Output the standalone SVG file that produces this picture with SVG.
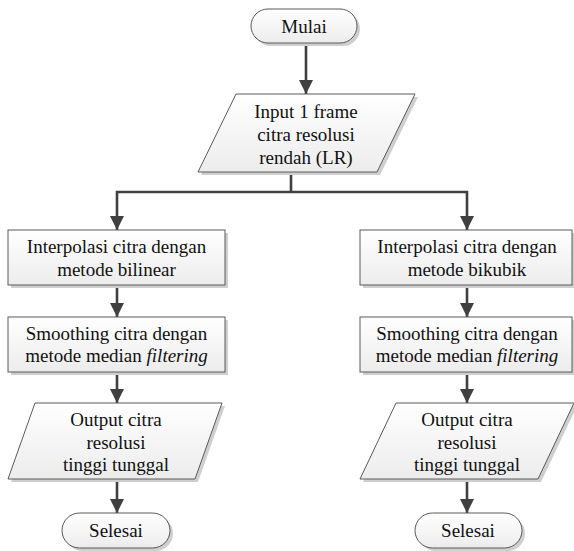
<svg xmlns="http://www.w3.org/2000/svg" width="574" height="551" viewBox="0 0 574 551">
<defs>
<linearGradient id="g" x1="0" y1="0" x2="0" y2="1">
<stop offset="0" stop-color="#ffffff"/>
<stop offset="1" stop-color="#ececec"/>
</linearGradient>
<marker id="ah" markerWidth="5.4" markerHeight="5.4" refX="5.4" refY="2.7" orient="auto" markerUnits="strokeWidth">
<path d="M0,0 L5.4,2.7 L0,5.4 Z" fill="#404040"/>
</marker>
</defs>
<style>
.s{fill:url(#g);stroke:#5a5a5a;stroke-width:1}
.sh{fill:#cfcfcf;stroke:none}
.t{font-family:"Liberation Serif","Times New Roman",serif;font-size:19px;fill:#111111;text-anchor:middle}
.c{fill:none;stroke:#404040;stroke-width:2.6;marker-end:url(#ah)}
.l{fill:none;stroke:#404040;stroke-width:2.6}
</style>
<rect width="574" height="551" fill="#ffffff"/>
<g id="connectors">
<line class="c" x1="306" y1="43" x2="306" y2="94"/>
<polyline class="l" points="291,172 291,192"/>
<polyline class="c" points="291,192 117,192 117,230"/>
<polyline class="c" points="291,192 467,192 467,230"/>
<line class="c" x1="117" y1="285" x2="117" y2="317"/>
<line class="c" x1="467" y1="285" x2="467" y2="317"/>
<line class="c" x1="117" y1="372" x2="117" y2="403"/>
<line class="c" x1="467" y1="372" x2="467" y2="403"/>
<line class="c" x1="117" y1="479" x2="117" y2="513"/>
<line class="c" x1="467" y1="479" x2="467" y2="513"/>
</g>
<g id="mulai">
<rect class="sh" x="254" y="12" width="106" height="34" rx="17"/>
<rect class="s" x="251" y="9" width="106" height="34" rx="17"/>
<text class="t" x="304" y="33" font-family="Liberation Serif, serif">Mulai</text>
</g>
<g id="input">
<polygon class="sh" points="239,97 418,97 380,175 201,175"/>
<polygon class="s" points="236,94 415,94 377,172 198,172"/>
<text class="t" x="306" y="118" font-family="Liberation Serif, serif">Input 1 frame</text>
<text class="t" x="306" y="141" font-family="Liberation Serif, serif">citra resolusi</text>
<text class="t" x="306" y="164" font-family="Liberation Serif, serif">rendah (LR)</text>
</g>
<g id="interp-bilinear">
<rect class="sh" x="11" y="233" width="217" height="55"/>
<rect class="s" x="8" y="230" width="217" height="55"/>
<text class="t" x="116.5" y="253" font-family="Liberation Serif, serif">Interpolasi citra dengan</text>
<text class="t" x="116.5" y="276" font-family="Liberation Serif, serif">metode bilinear</text>
</g>
<g id="smooth-left">
<rect class="sh" x="11" y="320" width="217" height="55"/>
<rect class="s" x="8" y="317" width="217" height="55"/>
<text class="t" x="116.5" y="340" font-family="Liberation Serif, serif">Smoothing citra dengan</text>
<text class="t" x="116.5" y="362" font-family="Liberation Serif, serif">metode median <tspan font-style="italic">filtering</tspan></text>
</g>
<g id="output-left">
<polygon class="sh" points="38,406 225,406 198,482 11,482"/>
<polygon class="s" points="35,403 222,403 195,479 8,479"/>
<text class="t" x="116" y="426" font-family="Liberation Serif, serif">Output citra</text>
<text class="t" x="116" y="449" font-family="Liberation Serif, serif">resolusi</text>
<text class="t" x="116" y="471" font-family="Liberation Serif, serif">tinggi tunggal</text>
</g>
<g id="selesai-left">
<rect class="sh" x="65" y="516" width="108" height="35" rx="17.5"/>
<rect class="s" x="62" y="513" width="108" height="35" rx="17.5"/>
<text class="t" x="116" y="537" font-family="Liberation Serif, serif">Selesai</text>
</g>
<g id="interp-bikubik">
<rect class="sh" x="363" y="233" width="212" height="55"/>
<rect class="s" x="360" y="230" width="212" height="55"/>
<text class="t" x="467" y="253" font-family="Liberation Serif, serif">Interpolasi citra dengan</text>
<text class="t" x="467" y="276" font-family="Liberation Serif, serif">metode bikubik</text>
</g>
<g id="smooth-right">
<rect class="sh" x="363" y="320" width="212" height="55"/>
<rect class="s" x="360" y="317" width="212" height="55"/>
<text class="t" x="467" y="340" font-family="Liberation Serif, serif">Smoothing citra dengan</text>
<text class="t" x="467" y="362" font-family="Liberation Serif, serif">metode median <tspan font-style="italic">filtering</tspan></text>
</g>
<g id="output-right">
<polygon class="sh" points="399,406 577,406 541,482 363,482"/>
<polygon class="s" points="396,403 574,403 538,479 360,479"/>
<text class="t" x="467" y="426" font-family="Liberation Serif, serif">Output citra</text>
<text class="t" x="467" y="449" font-family="Liberation Serif, serif">resolusi</text>
<text class="t" x="467" y="471" font-family="Liberation Serif, serif">tinggi tunggal</text>
</g>
<g id="selesai-right">
<rect class="sh" x="418" y="516" width="107" height="35" rx="17.5"/>
<rect class="s" x="415" y="513" width="107" height="35" rx="17.5"/>
<text class="t" x="468" y="537" font-family="Liberation Serif, serif">Selesai</text>
</g>
</svg>
